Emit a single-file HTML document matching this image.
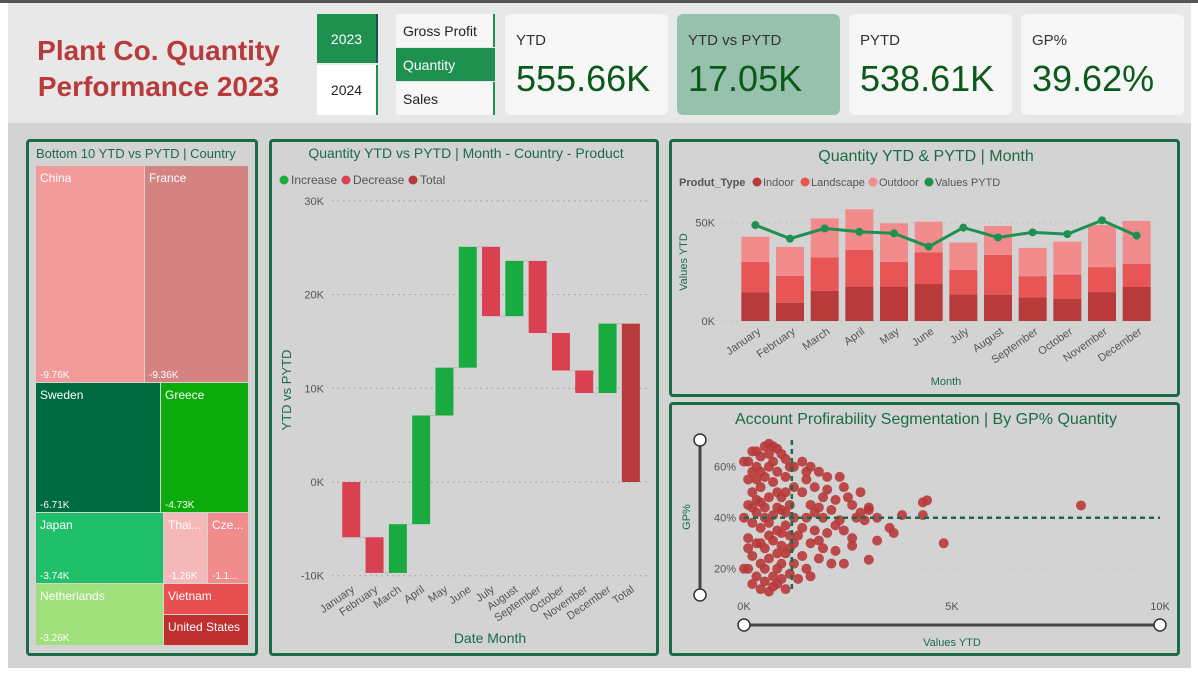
<!DOCTYPE html>
<html><head><meta charset="utf-8">
<style>
*{box-sizing:border-box;margin:0;padding:0}
body{width:1198px;height:676px;overflow:hidden;background:#fff;font-family:"Liberation Sans",sans-serif;position:relative}
.abs{position:absolute}
.panel{position:absolute;border:3px solid #1b6b4a;border-radius:4px;background:#d3d3d3}
.kpi{position:absolute;top:14px;width:163px;height:101px;background:#f7f7f7;border-radius:6px}
.kpi .l{position:absolute;left:11px;top:18px;font-size:15px;color:#333}
.kpi .v{position:absolute;left:11px;top:44px;font-size:36px;color:#0b5a1a}
.sl{position:absolute;font-size:14px;color:#222;padding-left:7px;display:flex;align-items:center}
</style></head><body>
<div class="abs" style="left:0;top:0;width:1198px;height:3px;background:#555"></div>
<div class="abs" style="left:8px;top:3px;width:1183px;height:120px;background:#e8e8e8"></div>
<div class="abs" style="left:8px;top:123px;width:1183px;height:545px;background:#d3d3d3"></div>
<div class="abs" style="left:20px;top:33px;width:277px;text-align:center;font-size:28px;font-weight:bold;color:#b83a3a;line-height:36px">Plant Co. Quantity<br>Performance 2023</div>

<div class="sl" style="left:317px;top:14px;width:61px;height:49px;background:#1e9150;color:#fff;justify-content:center;padding:0;border-right:2px solid #155;">2023</div>
<div class="sl" style="left:317px;top:65px;width:61px;height:50px;background:#fff;justify-content:center;padding:0;border-right:2px solid #1e9150">2024</div>
<div class="sl" style="left:396px;top:14px;width:99px;height:33px;background:#f7f7f7;border-right:2px solid #1e9150">Gross Profit</div>
<div class="sl" style="left:396px;top:48px;width:99px;height:33px;background:#1e9150;color:#fff">Quantity</div>
<div class="sl" style="left:396px;top:82px;width:99px;height:33px;background:#f7f7f7;border-right:2px solid #1e9150">Sales</div>

<div class="kpi" style="left:505px"><div class="l">YTD</div><div class="v">555.66K</div></div>
<div class="kpi" style="left:677px;background:#96c2ad"><div class="l">YTD vs PYTD</div><div class="v">17.05K</div></div>
<div class="kpi" style="left:849px"><div class="l">PYTD</div><div class="v">538.61K</div></div>
<div class="kpi" style="left:1021px"><div class="l">GP%</div><div class="v">39.62%</div></div>

<div class="panel" style="left:26px;top:139px;width:232px;height:517px"></div>
<div class="panel" style="left:269px;top:139px;width:390px;height:517px"></div>
<div class="panel" style="left:669px;top:139px;width:511px;height:258px"></div>
<div class="panel" style="left:669px;top:402px;width:511px;height:254px"></div>

<svg class="abs" id="svg" width="1198" height="676" style="left:0;top:0" font-family="Liberation Sans, sans-serif"></svg>
<script>
// Treemap
const tmNames=["China","France","Sweden","Greece","Japan","Thai...","Cze...","Netherlands","Vietnam","United States"];
const tmValues=["-9.76K","-9.36K","-6.71K","-4.73K","-3.74K","-1.26K","-1.1...","-3.26K","",""];
// Waterfall
const wfCats=["January","February","March","April","May","June","July","August","September","October","November","December","Total"];
const wfDeltas=[-5.9,-3.8,5.2,11.6,5.1,12.9,-7.4,5.9,-7.7,-4.0,-2.4,7.4];
const wfTicks=[-10,0,10,20,30];
// Stacked
const months=["January","February","March","April","May","June","July","August","September","October","November","December"];
const indoor=[14.6,9.3,15.3,17.5,17.5,18.8,13.6,13.4,12.0,11.2,14.7,17.3];
const landscape=[15.4,13.7,17.1,18.6,12.5,16.1,12.4,20.2,10.8,12.4,12.7,11.7];
const outdoor=[12.9,14.7,19.8,20.7,19.7,15.6,13.9,14.7,14.4,16.8,21.4,21.9];
const pytd=[48.8,41.9,47.1,45.4,44.6,37.8,47.5,42.5,45.1,44.2,51.2,43.4];
const sbTicks=[0,50];
// Scatter (x in K, y in %)
const scatter=[[0.1,62],[0.2,58],[0.1,55],[0.3,66],[0.4,64],[0.5,68],[0.6,69],[0.7,68],[0.8,67],[0.9,65],[1.0,63],[1.1,60],[0.2,50],[0.3,47],[0.1,45],[0.4,52],[0.5,56],[0.6,60],[0.7,54],[0.8,50],[0.9,48],[1.0,56],[1.2,52],[0.3,42],[0.5,44],[0.7,41],[0.9,43],[1.1,45],[0.2,38],[0.4,36],[0.6,38],[0.8,35],[1.0,37],[1.2,40],[0.1,32],[0.3,30],[0.5,28],[0.7,31],[0.9,29],[1.1,33],[0.2,25],[0.4,22],[0.6,24],[0.8,20],[1.0,26],[0.1,20],[0.3,17],[0.5,15],[0.7,13],[0.9,16],[1.1,18],[0.4,12],[0.6,11],[0.8,14],[1.2,22],[1.0,12],[0.2,14],[0.6,48],[0.4,58],[0.8,58],[0.3,55],[1.1,28],[0.9,34],[0.5,40],[0.7,62],[0.2,44],[1.2,30],[0.0,20],[0.0,40],[0.0,62],[0.4,46],[0.6,33],[0.8,26],[0.3,60],[1.0,50],[0.5,20],[0.9,22],[0.1,28],[0.7,17],[1.2,60],[0.6,65],[0.4,30],[0.2,66],[1.0,42],[0.8,44],
[1.4,62],[1.6,60],[1.8,58],[2.0,56],[2.3,56],[1.5,55],[1.7,52],[2.4,52],[1.4,50],[1.9,48],[2.2,47],[2.5,48],[2.6,45],[1.6,45],[1.8,44],[2.1,43],[2.8,42],[3.0,43],[1.5,40],[1.9,40],[2.3,39],[2.7,40],[3.2,40],[1.4,36],[1.7,35],[2.0,34],[2.4,35],[2.6,32],[1.6,30],[1.9,28],[2.2,27],[2.6,29],[1.4,25],[1.8,24],[2.1,22],[1.5,20],[2.4,22],[1.3,16],[1.6,17],[2.8,50],[3.0,44],[2.9,39],[1.5,58],[2.0,51],[1.7,42],[2.2,37],[1.3,33],[1.8,31],
[3.8,41],[3.5,36],[3.6,34],[3.0,23.5],[3.2,31],[4.3,46],[4.4,46.8],[4.3,41],[4.8,30],[8.1,44.8]];
const spXTicks=[0,5,10];const spYTicks=[20,40,60];

const svg=document.getElementById('svg');const NS='http://www.w3.org/2000/svg';
function mk(t,a,txt){const e=document.createElementNS(NS,t);for(const k in a)e.setAttribute(k,a[k]);if(txt!==undefined)e.textContent=txt;svg.appendChild(e);return e;}

// ---- treemap
let t=mk('text',{x:36,y:158,'font-size':13,fill:'#1b6b4a'},'Bottom 10 YTD vs PYTD | Country');


const tmRects=[[36,166,108,216,'#f19a9a'],[145,166,103,216,'#d48282'],[36,383,124,129,'#006a40'],[161,383,87,129,'#0bab0b'],[36,513,127,70,'#20c06a'],[164,513,43,70,'#f5b8b8'],[208,513,40,70,'#f08c8c'],[36,584,127,61,'#9fe07c'],[164,584,84,30,'#e85050'],[164,615,84,30,'#c03030']];
tmRects.forEach((r,i)=>{
 const e=mk('rect',{x:r[0],y:r[1],width:r[2],height:r[3],fill:r[4]});
 
 
 const a=mk('text',{x:r[0]+4,y:r[1]+16,'font-size':12,fill:'#fff'},tmNames[i]);
 
 
 if(tmValues[i]){const b=mk('text',{x:r[0]+4,y:r[1]+r[3]-4,'font-size':10,fill:'#fff'},tmValues[i]);
 
 }
});

// ---- waterfall
t=mk('text',{x:466,y:158,'font-size':14,fill:'#1b6b4a','text-anchor':'middle'},'Quantity YTD vs PYTD | Month - Country - Product');


[['Increase','#1aab40',284],['Decrease','#d94050',346],['Total','#b83a3a',413]].forEach(l=>{
 const c=mk('circle',{cx:l[2],cy:180,r:4.5,fill:l[1]});
 
 
 const x=mk('text',{x:l[2]+7,y:184,'font-size':12,fill:'#555'},l[0]);
 
 
});
const wy=v=>482-v*9.37;const wx0=339.6,wStep=23.3;const wx=i=>wx0+wStep*i+wStep/2;
wfTicks.forEach(v=>{
 const g=mk('line',{x1:332,x2:648,y1:wy(v),y2:wy(v),stroke:'#999','stroke-dasharray':'1.5 4'});
 
 
 const l=mk('text',{x:324,y:wy(v)+4,'font-size':11,fill:'#555','text-anchor':'end'},v+'K');
 
 
});
let run=0;
wfCats.forEach((c,i)=>{
 let a,b,col;
 if(i<wfDeltas.length){a=run;b=run+wfDeltas[i];run=b;col=wfDeltas[i]>=0?'#1aab40':'#d94050';}
 else{a=0;b=run;col='#b83a3a';}
 const r=mk('rect',{x:wx(i)-9,y:wy(Math.max(a,b)),width:18,height:Math.abs(wy(a)-wy(b)),fill:col});
 
 
 if(i<wfDeltas.length){const cn=mk('line',{x1:wx(i)+9,x2:wx(i+1)-9,y1:wy(run),y2:wy(run),stroke:'#bbb'});
 
 }
 const l=mk('text',{x:wx(i)+4,y:591,'font-size':11,fill:'#555','text-anchor':'end',transform:`rotate(-35 ${wx(i)+4} 591)`},c);
 
 
});
t=mk('text',{x:291,y:390,'font-size':13,fill:'#1b6b4a','text-anchor':'middle',transform:'rotate(-90 291 390)'},'YTD vs PYTD');


t=mk('text',{x:490,y:643,'font-size':14,fill:'#1b6b4a','text-anchor':'middle'},'Date Month');



// ---- stacked bars
t=mk('text',{x:926,y:161,'font-size':16,fill:'#1b6b4a','text-anchor':'middle'},'Quantity YTD & PYTD | Month');


t=mk('text',{x:679,y:186,'font-size':11,fill:'#555','font-weight':'bold'},'Produt_Type');


[['Indoor','#b83a3a',757],['Landscape','#e85555',805],['Outdoor','#f28c8c',873],['Values PYTD','#1e9150',929]].forEach(l=>{
 const c=mk('circle',{cx:l[2],cy:182,r:4.5,fill:l[1]});
 
 
 const x=mk('text',{x:l[2]+6,y:186,'font-size':11,fill:'#555'},l[0]);
 
 
});
const sy=v=>321-v*1.966;const sStep=(1154-738)/12;const sx=i=>738+sStep*i+sStep/2;
sbTicks.forEach(v=>{
 const g=mk('line',{x1:725,x2:1160,y1:sy(v),y2:sy(v),stroke:'#bbb','stroke-dasharray':'1.5 4'});
 
 
 const l=mk('text',{x:715,y:sy(v)+4,'font-size':11,fill:'#555','text-anchor':'end'},v+'K');
 
 
});
months.forEach((m,i)=>{
 let base=0;
 [[indoor,'#b83a3a','indoor'],[landscape,'#e85555','landscape'],[outdoor,'#f28c8c','outdoor']].forEach(s=>{
  const v=s[0][i];
  const r=mk('rect',{x:sx(i)-14,y:sy(base+v),width:28,height:sy(base)-sy(base+v),fill:s[1]});
  
  
  base+=v;
 });
 const l=mk('text',{x:sx(i)+6,y:333,'font-size':11,fill:'#555','text-anchor':'end',transform:`rotate(-35 ${sx(i)+6} 333)`},m);
 
 
});
const pl=mk('polyline',{points:pytd.map((v,i)=>sx(i)+','+sy(v)).join(' '),fill:'none',stroke:'#1e9150','stroke-width':3});


pytd.forEach((v,i)=>{const c=mk('circle',{cx:sx(i),cy:sy(v),r:4,fill:'#1e9150'});
 
 });
t=mk('text',{x:687,y:262,'font-size':11,fill:'#1b6b4a','text-anchor':'middle',transform:'rotate(-90 687 262)'},'Values YTD');


t=mk('text',{x:946,y:385,'font-size':11,fill:'#1b6b4a','text-anchor':'middle'},'Month');



// ---- scatter
t=mk('text',{x:926,y:424,'font-size':16,fill:'#1b6b4a','text-anchor':'middle'},'Account Profirability Segmentation | By GP% Quantity');


const px=v=>744+v*41.6;const py=v=>517.7-(v-40)*2.55;
spYTicks.forEach(v=>{
 const g=mk('line',{x1:744,x2:1160,y1:py(v),y2:py(v),stroke:'#c8c8c8','stroke-dasharray':'1.5 4'});
 
 
 const l=mk('text',{x:736,y:py(v)+4,'font-size':11,fill:'#555','text-anchor':'end'},v+'%');
 
 
});
spXTicks.forEach(v=>{
 const l=mk('text',{x:px(v),y:610,'font-size':11,fill:'#555','text-anchor':'middle'},v+'K');
 
 
});
scatter.forEach(p=>{const c=mk('circle',{cx:px(p[0]),cy:py(p[1]),r:5,fill:'#b83a3a','fill-opacity':0.9});
 
 });
let d=mk('line',{x1:744,x2:1160,y1:py(40),y2:py(40),stroke:'#1b6b4a','stroke-width':2.5,'stroke-dasharray':'5 4'});


d=mk('line',{x1:px(1.15),x2:px(1.15),y1:440,y2:592,stroke:'#1b6b4a','stroke-width':2.5,'stroke-dasharray':'5 4'});


d=mk('line',{x1:700,x2:700,y1:440,y2:595,stroke:'#444','stroke-width':3});


d=mk('line',{x1:744,x2:1160,y1:625,y2:625,stroke:'#444','stroke-width':3});


[[700,440],[700,595],[744,625],[1160,625]].forEach(h=>{const c=mk('circle',{cx:h[0],cy:h[1],r:6,fill:'#fff',stroke:'#333','stroke-width':1.5});
 
 });
t=mk('text',{x:690,y:517,'font-size':11,fill:'#1b6b4a','text-anchor':'middle',transform:'rotate(-90 690 517)'},'GP%');


t=mk('text',{x:952,y:646,'font-size':11,fill:'#1b6b4a','text-anchor':'middle'},'Values YTD');


</script>
</body></html>
